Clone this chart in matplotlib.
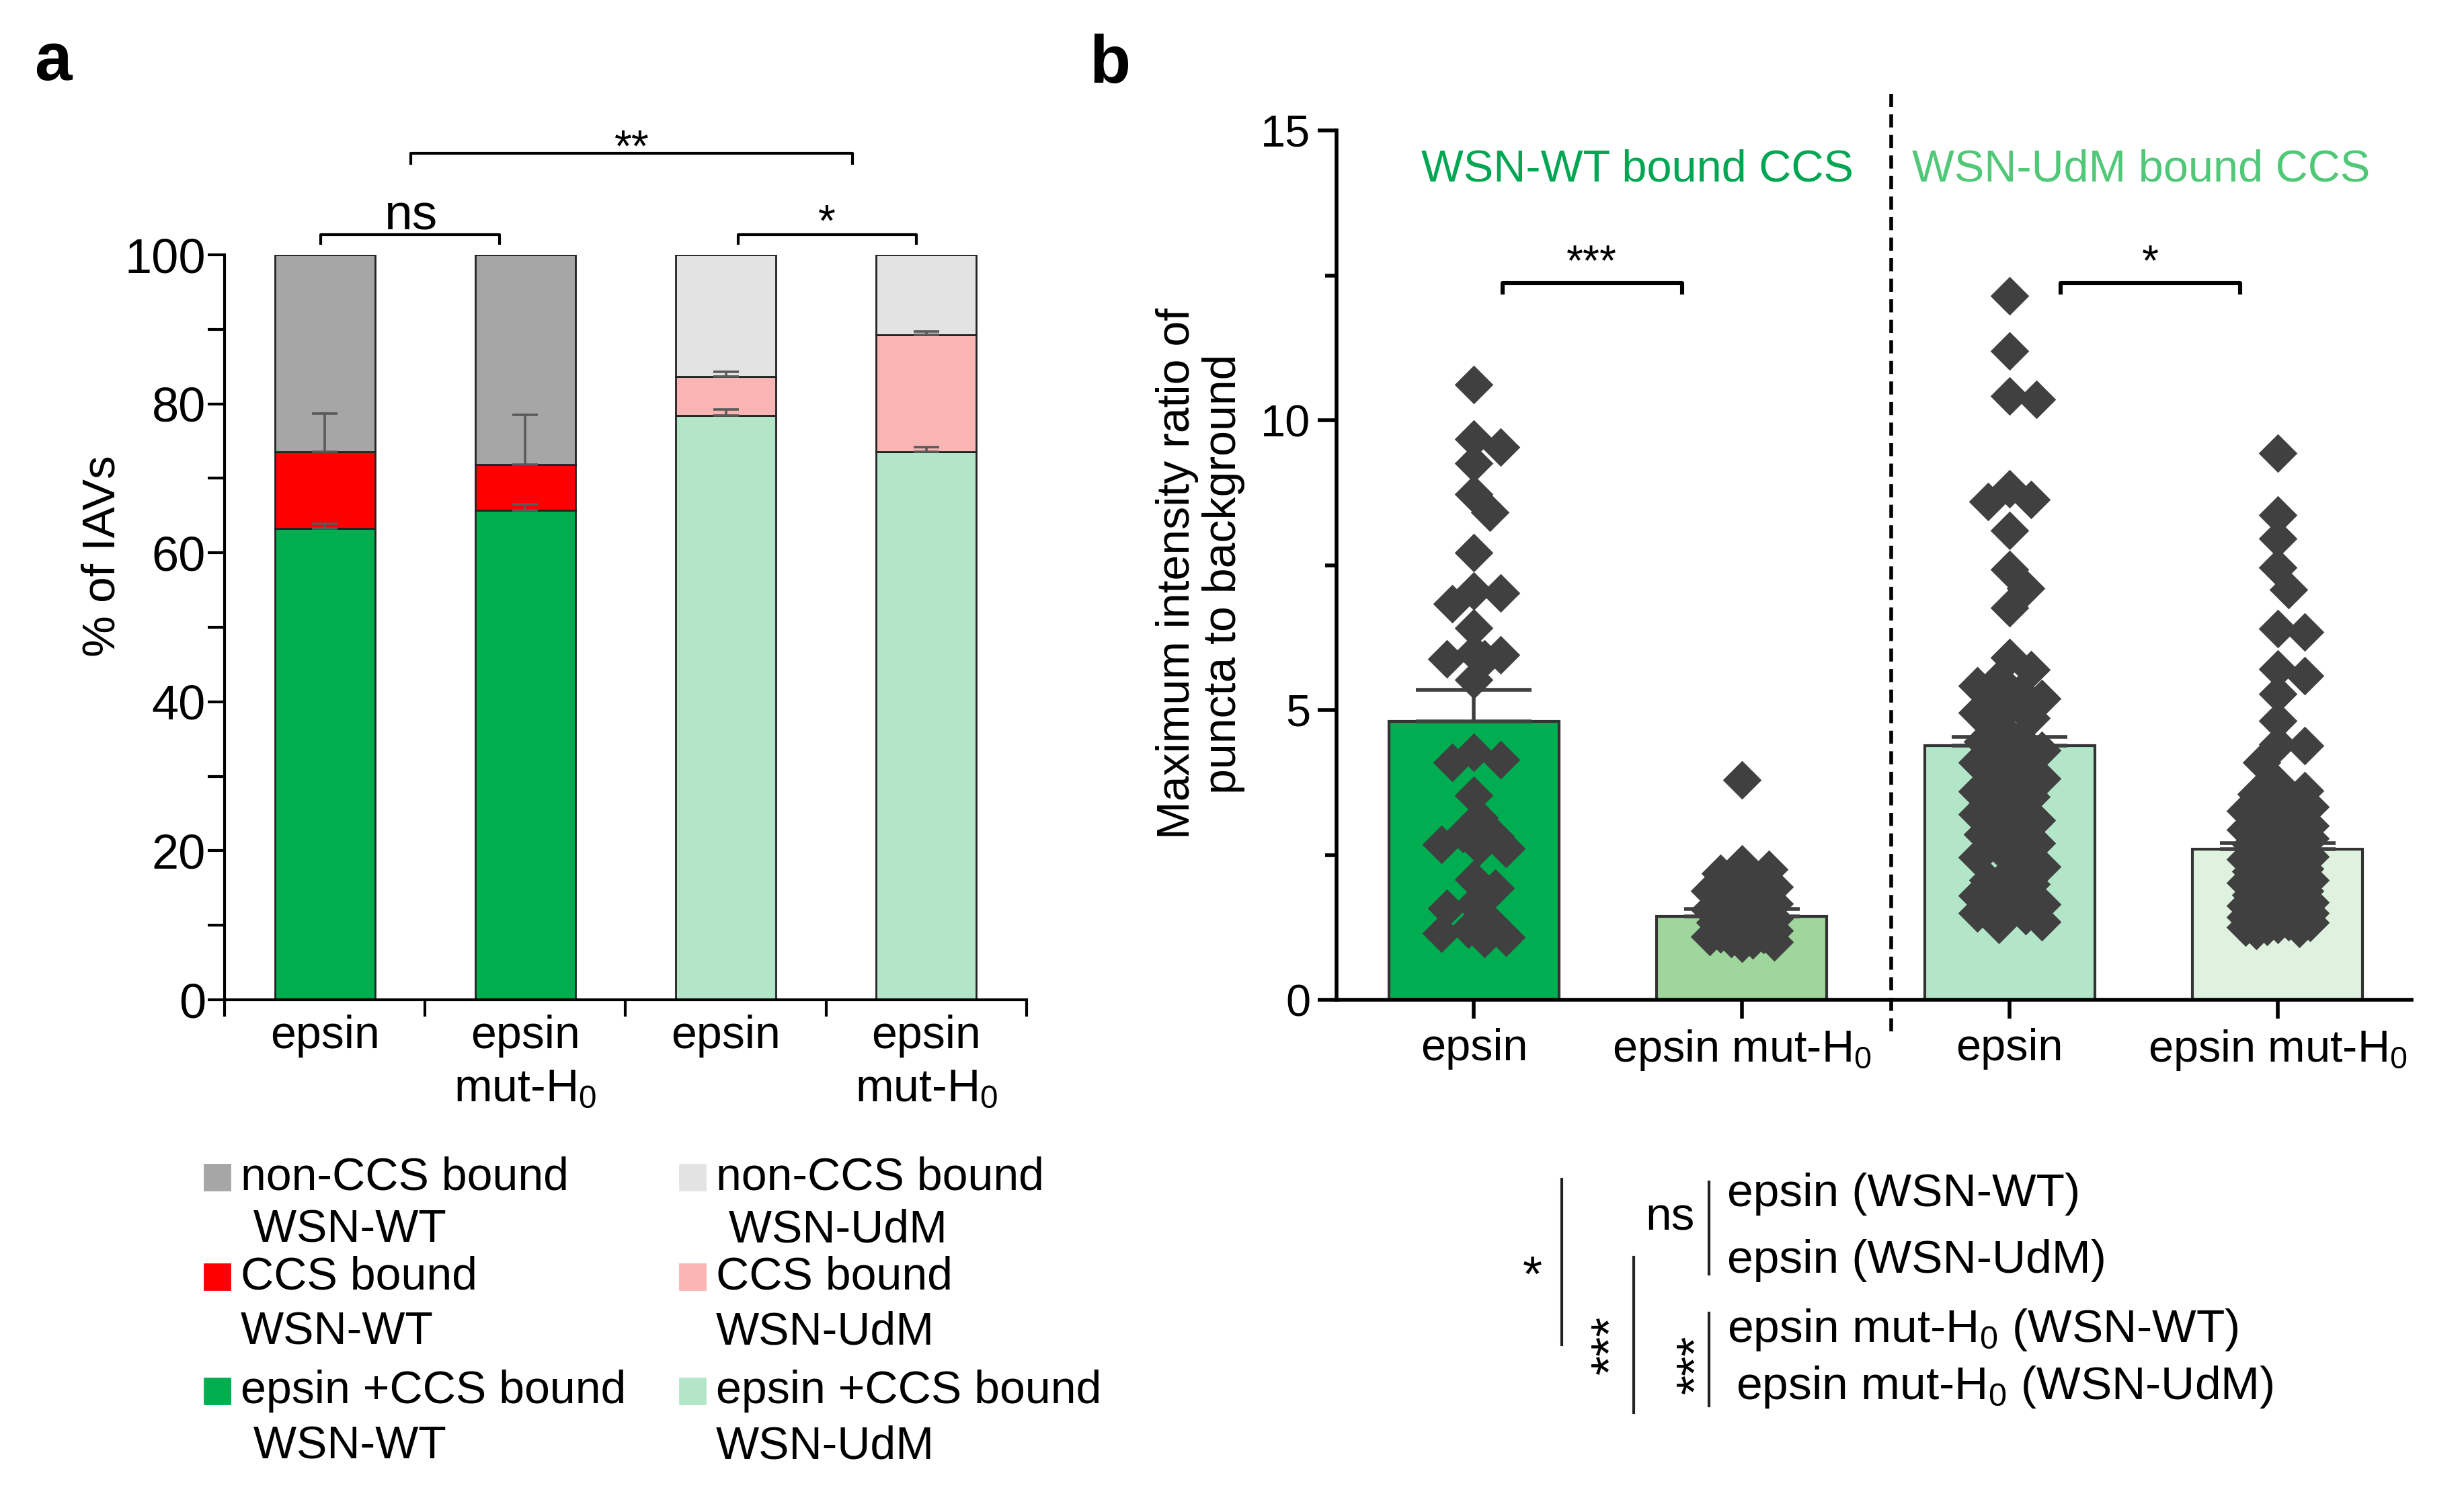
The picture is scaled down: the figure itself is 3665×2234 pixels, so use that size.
import numpy as np
import matplotlib
matplotlib.use('Agg')
import matplotlib.pyplot as plt
from matplotlib import font_manager
from matplotlib.lines import Line2D
from matplotlib.patches import Rectangle

names = {f.name for f in font_manager.fontManager.ttflist}
NARROW = 'Liberation Sans Narrow' if 'Liberation Sans Narrow' in names else 'Liberation Sans'
WIDE = 'Liberation Sans'

plt.rcParams['font.family'] = [NARROW, 'DejaVu Sans']
plt.rcParams['mathtext.fontset'] = 'custom'
plt.rcParams['mathtext.rm'] = NARROW
plt.rcParams['mathtext.default'] = 'rm'

# ---------------- panel a data (% of IAVs) ----------------
cats_a = ['epsin', 'epsin\nmut-H$_0$', 'epsin', 'epsin\nmut-H$_0$']
epsin_ccs = [63.3, 65.7, 78.4, 73.6]
ccs_only = [10.3, 6.1, 5.3, 15.7]
non_ccs = [26.4, 28.2, 16.3, 10.7]
err_epsin_ccs = [0.6, 0.8, 0.8, 0.6]
err_ccs = [5.1, 6.7, 0.6, 0.4]

# colours: [non-CCS, CCS, epsin+CCS] for WT and UdM
cols_wt = ['#A6A6A6', '#FF0000', '#00AD4F']
cols_udm = ['#E3E3E3', '#F9B4B4', '#B3E6C9']
bar_virus = ['wt', 'wt', 'udm', 'udm']

legend_top = ['non-CCS bound', 'CCS bound', 'epsin +CCS bound']
legend_wt = [' WSN-WT', 'WSN-WT', ' WSN-WT']
legend_udm = [' WSN-UdM', 'WSN-UdM', 'WSN-UdM']

# ---------------- panel b data (max intensity ratio) ----------------
cats_b = ['epsin', 'epsin mut-H$_0$', 'epsin', 'epsin mut-H$_0$']
means_b = [4.80, 1.44, 4.38, 2.60]
sems_b = [0.55, 0.13, 0.16, 0.10]
bar_cols_b = ['#00AD50', '#9ED69B', '#B3E6C9', '#DFF2DF']

g1 = [10.62, 9.67, 9.54, 9.26, 8.72, 8.41, 7.71, 7.05, 7.02, 6.83, 6.41, 5.99,
      5.95, 5.88, 5.88, 5.52, 4.27, 4.14, 4.10, 3.53, 3.14, 2.86, 2.82, 2.68,
      2.65, 2.61, 2.08, 1.93, 1.65, 1.58, 1.36, 1.22, 1.15, 1.08, 1.05]
g2 = [3.79, 2.34, 2.25, 2.18, 2.10, 2.02, 1.95, 1.88, 1.80, 1.74, 1.66, 1.60,
      1.55, 1.50, 1.46, 1.40, 1.36, 1.31, 1.27, 1.24, 1.20, 1.16, 1.12, 1.09,
      1.05, 1.03, 1.00, 0.98, 1.14, 1.33]
g3 = [12.15, 11.20, 10.42, 10.36, 8.82, 8.63, 8.60, 8.10, 7.42, 7.10, 6.76, 5.90,
      5.70, 5.53, 5.42, 5.30, 5.20, 5.14, 5.06, 4.95, 4.86, 4.75, 4.50, 4.46,
      4.30, 4.20, 4.10, 3.95, 3.94, 3.82, 3.70, 3.60, 3.50, 3.42, 3.30, 3.20,
      3.10, 3.10, 2.90, 2.85, 2.70, 2.62, 2.55, 2.46, 2.30, 2.20, 2.06, 2.00,
      1.90, 1.80, 1.74, 1.65, 1.58, 1.54, 1.50, 1.45, 1.34, 1.30]
g4 = [9.43, 8.36, 7.96, 7.46, 7.08, 6.40, 6.34, 5.71, 5.59, 5.28, 4.81, 4.41,
      4.38, 4.10, 3.72, 3.61, 3.55, 3.47, 3.40, 3.33, 3.26, 3.20, 3.12, 3.05,
      3.01, 2.94, 2.90, 2.84, 2.79, 2.73, 2.68, 2.62, 2.58, 2.51, 2.47, 2.42,
      2.37, 2.31, 2.27, 2.21, 2.16, 2.12, 2.06, 2.02, 1.97, 1.93, 1.88, 1.84,
      1.79, 1.75, 1.70, 1.66, 1.61, 1.57, 1.52, 1.48, 1.43, 1.39, 1.35, 1.30,
      1.27, 1.23, 1.20, 1.33, 1.45, 1.56, 1.68, 1.81, 2.04, 2.26, 1.38, 1.50,
      1.25, 1.62]
groups_b = [g1, g2, g3, g4]

table_rows = ['epsin (WSN-WT)', 'epsin (WSN-UdM)',
              'epsin mut-H$_0$ (WSN-WT)', 'epsin mut-H$_0$ (WSN-UdM)']

# ---------------- figure ----------------
W, H = 3666, 2234
fig = plt.figure(figsize=(W / 200, H / 200), dpi=200)


def fx(x):
    return x / W


def fy(y):
    return 1 - y / H


def swarm(vals, ppx, ppy, dmin=34, step=8, maxoff=48):
    # simple column scatter: spread points sideways (pixels), return data offsets
    cands = [0]
    k = 1
    while k * step <= maxoff:
        cands += [k * step, -k * step]
        k += 1
    placed = []
    offs = np.zeros(len(vals))
    for i in np.argsort(vals)[::-1]:
        y = vals[i] * ppy
        best, bestd = 0, -1
        for c in cands:
            d = min([np.hypot(c - px, y - py) for px, py in placed] or [1e9])
            if d >= dmin:
                best = c
                break
            if d > bestd:
                best, bestd = c, d
        placed.append((best, y))
        offs[i] = best / ppx
    return offs


# ================= panel a =================
ax = fig.add_axes([fx(334), fy(1487), (1527 - 334) / W, (1487 - 379) / H])
x = np.arange(4)
for i in range(4):
    c = cols_wt if bar_virus[i] == 'wt' else cols_udm
    ax.bar(x[i], epsin_ccs[i], 0.5, color=c[2], edgecolor='#222222', lw=1.0, zorder=2)
    ax.bar(x[i], ccs_only[i], 0.5, bottom=epsin_ccs[i], color=c[1],
           edgecolor='#222222', lw=1.0, zorder=2)
    ax.bar(x[i], non_ccs[i], 0.5, bottom=epsin_ccs[i] + ccs_only[i], color=c[0],
           edgecolor='#222222', lw=1.0, zorder=2)

top_ccs = np.array(epsin_ccs) + np.array(ccs_only)
ax.errorbar(x, epsin_ccs, yerr=[np.zeros(4), err_epsin_ccs], fmt='none',
            ecolor='#5A5A5A', elinewidth=1.3, capsize=7, capthick=1.3, zorder=3)
ax.errorbar(x, top_ccs, yerr=[np.zeros(4), err_ccs], fmt='none',
            ecolor='#5A5A5A', elinewidth=1.3, capsize=7, capthick=1.3, zorder=3)

ax.set_xlim(-0.5, 3.5)
ax.set_ylim(0, 100)
for s in ['top', 'right']:
    ax.spines[s].set_visible(False)
for s in ['left', 'bottom']:
    ax.spines[s].set_linewidth(1.5)
ax.set_yticks(np.arange(0, 101, 20))
ax.set_yticks(np.arange(10, 100, 20), minor=True)
ax.set_xticks(np.arange(-0.5, 4, 1))
ax.set_xticklabels([])
ax.set_xticks(x, cats_a, minor=True)
ax.tick_params(axis='y', which='both', length=9, width=1.5, labelsize=26, pad=1)
ax.tick_params(axis='x', which='major', length=9, width=1.5)
ax.tick_params(axis='x', which='minor', length=0, labelsize=24.5, pad=8)
for t in ax.get_xticklabels(minor=True):
    t.set_linespacing(1.3)
ax.set_ylabel('% of IAVs', family=WIDE, fontsize=25)
ax.yaxis.set_label_coords(-0.125, 0.596)

# significance brackets
ax.plot([-0.02, -0.02, 0.87, 0.87], [101.5, 102.7, 102.7, 101.5], color='k', lw=1.5, clip_on=False)
ax.text(0.43, 103.4, 'ns', ha='center', va='baseline', fontsize=27)
ax.plot([2.06, 2.06, 2.95, 2.95], [101.5, 102.7, 102.7, 101.5], color='k', lw=1.5, clip_on=False)
ax.text(2.505, 102.6, '*', ha='center', va='baseline', fontsize=24)
ax.plot([0.43, 0.43, 2.63, 2.63], [112.3, 113.6, 113.6, 112.3], color='k', lw=1.5, clip_on=False)
ax.text(1.53, 112.6, '**', ha='center', va='baseline', fontsize=24)

# legend of panel a (manual, two columns)
rows_y1 = [1751, 1899, 2069]
rows_y2 = [1830, 1982, 2152]
for j in range(3):
    for cols, labs, px0 in [(cols_wt, legend_wt, 304), (cols_udm, legend_udm, 1011)]:
        fig.patches.append(Rectangle((fx(px0), fy(rows_y1[j] + 19)), 38 / W, 38 / H,
                                     transform=fig.transFigure, color=cols[j]))
        fig.text(fx(px0 + 54), fy(rows_y1[j]), legend_top[j], ha='left', va='center', fontsize=24.5)
        fig.text(fx(px0 + 54), fy(rows_y2[j]), labs[j], ha='left', va='center', fontsize=24.5)

# ================= panel b =================
bx = fig.add_axes([fx(1988), fy(1487), (3587 - 1988) / W, (1487 - 194) / H])
xlo, xhi = -0.513, 3.50
bx.set_xlim(xlo, xhi)
bx.set_ylim(0, 15)
ppx = (3587 - 1988) / (xhi - xlo)
ppy = (1487 - 194) / 15

xb = np.arange(4)
bx.bar(xb, means_b, 0.635, color=bar_cols_b, edgecolor='#333333', lw=1.5, zorder=2)
bx.errorbar(xb, means_b, yerr=[np.zeros(4), sems_b], fmt='none', ecolor='#404040',
            elinewidth=2.0, capsize=31, capthick=2.0, zorder=3)
for i, g in enumerate(groups_b):
    g = np.array(g)
    offs = swarm(g, ppx, ppy)
    bx.scatter(xb[i] + offs, g, marker='D', s=215, color='#404040', lw=0, zorder=4)

for s in ['top', 'right']:
    bx.spines[s].set_visible(False)
for s in ['left', 'bottom']:
    bx.spines[s].set_linewidth(2.0)
bx.set_yticks([0, 5, 10, 15])
bx.set_yticks([2.5, 7.5, 12.5], minor=True)
bx.set_xticks(xb, cats_b)
bx.tick_params(axis='y', which='major', length=10, width=2, labelsize=24, pad=4)
bx.tick_params(axis='y', which='minor', length=6, width=2)
bx.tick_params(axis='x', length=10, width=2, labelsize=24, pad=5)
bx.set_ylabel('Maximum intensity ratio of\npuncta to background', family=WIDE,
              fontsize=24.5, linespacing=1.1)
bx.yaxis.set_label_coords(-0.085, 0.49)

bx.plot([1.557, 1.557], [-0.55, 15.63], color='k', lw=2.0, ls=(0, (3.5, 2)),
        clip_on=False, zorder=5)
bx.text(0.61, 14.32, 'WSN-WT bound CCS', color='#00A651', ha='center', va='center', fontsize=24)
bx.text(2.49, 14.32, 'WSN-UdM bound CCS', color='#50C878', ha='center', va='center', fontsize=24)

bx.plot([0.107, 0.107, 0.776, 0.776], [12.2, 12.37, 12.37, 12.2], color='k', lw=2.2)
bx.text(0.44, 12.5, '***', ha='center', va='baseline', fontsize=23)
bx.plot([2.189, 2.189, 2.861, 2.861], [12.2, 12.37, 12.37, 12.2], color='k', lw=2.2)
bx.text(2.525, 12.5, '*', ha='center', va='baseline', fontsize=23)

# ---- statistics table below panel b ----
tab_x = [2569, 2569, 2569, 2582]
tab_y = [1776, 1875, 1978, 2063]
for t, tx, ty in zip(table_rows, tab_x, tab_y):
    fig.text(fx(tx), fy(ty), t, ha='left', va='center', fontsize=25)
for (lx, ly0, ly1) in [(2323, 1754, 2000), (2430, 1870, 2101),
                       (2542, 1758, 1895), (2542, 1953, 2091)]:
    fig.add_artist(Line2D([fx(lx), fx(lx)], [fy(ly0), fy(ly1)], color='#222222', lw=1.5))
fig.text(fx(2484), fy(1812), 'ns', ha='center', va='center', fontsize=25)
fig.text(fx(2279), fy(1900), '*', ha='center', va='center', fontsize=27)
fig.text(fx(2398), fy(2000), '***', ha='center', va='center', fontsize=27, rotation=90)
fig.text(fx(2525), fy(2029), '***', ha='center', va='center', fontsize=27, rotation=90)

# panel letters
fig.text(fx(51), fy(119), 'a', family=WIDE, weight='bold', fontsize=36, ha='left', va='baseline')
fig.text(fx(1620), fy(123), 'b', family=WIDE, weight='bold', fontsize=36, ha='left', va='baseline')

fig.savefig('out.png', dpi=200)
